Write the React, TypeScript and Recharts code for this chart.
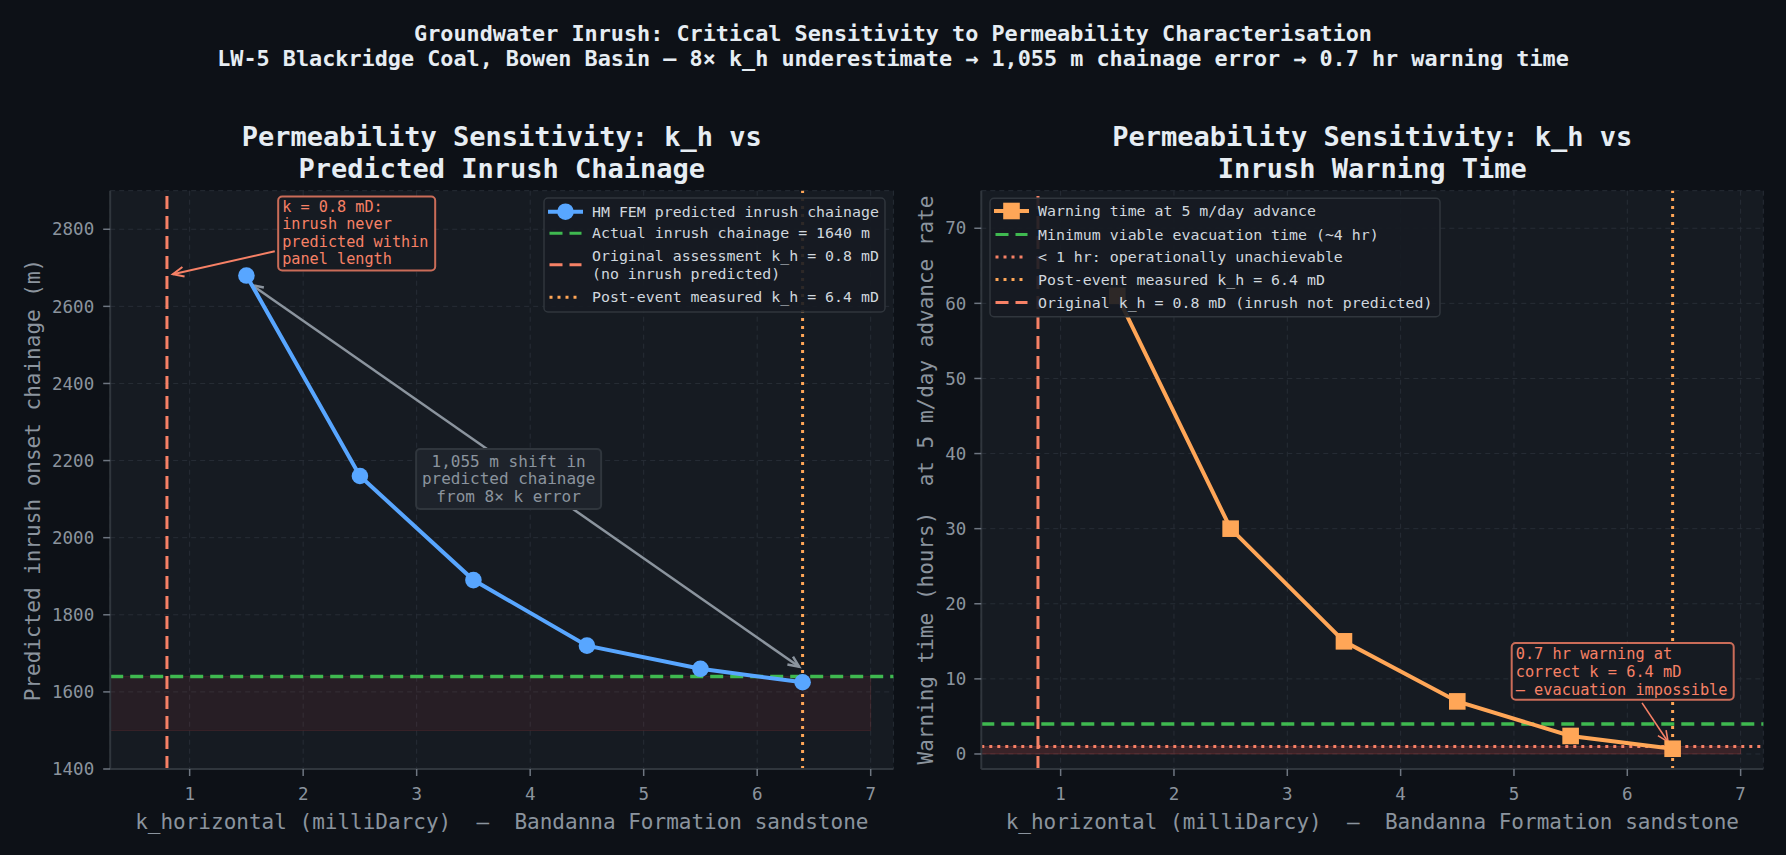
import React from 'react';
import {
  CartesianGrid,
  ComposedChart,
  Line,
  ReferenceArea,
  ReferenceDot,
  ReferenceLine,
  XAxis,
  YAxis,
} from 'recharts';

// horizontal permeability cases run through the HM FEM model (mD)
const kValues = [1.5, 2.5, 3.5, 4.5, 5.5, 6.4];
// predicted inrush onset chainage (m)
const chainage = [2680, 2160, 1890, 1720, 1660, 1625];
// warning time at 5 m/day advance (hours)
const warningHours = [61, 30, 15, 7, 2.4, 0.7];

const xTicks = [1, 2, 3, 4, 5, 6, 7];
const chainageTicks = [1400, 1600, 1800, 2000, 2200, 2400, 2600, 2800];
const warningTicks = [0, 10, 20, 30, 40, 50, 60, 70];

const ORIGINAL_K = 0.8;
const MEASURED_K = 6.4;
const ACTUAL_CHAINAGE = 1640;
const MIN_EVAC_HOURS = 4;
const UNACHIEVABLE_HOURS = 1;

const chainageRows = kValues.map((k, i) => ({ k, chainage: chainage[i] }));
const warningRows = kValues.map((k, i) => ({ k, hours: warningHours[i] }));

const FONT = "'DejaVu Sans Mono', monospace";
const BG = '#0d1117';
const PANEL = '#161b22';
const GRID = '#272d36';
const SPINE = '#30363d';
const MUTED = '#8b949e';
const TEXT = '#e6edf3';
const LEGEND_TEXT = '#d0d7de';
const BLUE = '#58a6ff';
const ORANGE = '#ffa657';
const GREEN = '#3fb950';
const SALMON = '#f78166';
const RED = '#f85149';

const DASH = '13 7';
const DOT = '3 5';

const tickStyle = { fill: MUTED, fontSize: 17.5, fontFamily: FONT };

const circleDot = (p: any) => (
  <circle key={`c-${p.index}`} cx={p.cx} cy={p.cy} r={8.3} fill={BLUE} />
);
const squareDot = (p: any) => (
  <rect key={`s-${p.index}`} x={p.cx - 8.3} y={p.cy - 8.3} width={16.6} height={16.6} fill={ORANGE} />
);

// line with open chevron heads, used for annotate-style arrows
function arrow(color: string, width: number, heads: { start?: boolean; end?: boolean }, shrinkEnd = 0) {
  return (p: any) => {
    const { x1, y1 } = p;
    let { x2, y2 } = p;
    const a = Math.atan2(y2 - y1, x2 - x1);
    x2 -= shrinkEnd * Math.cos(a);
    y2 -= shrinkEnd * Math.sin(a);
    const chevron = (x: number, y: number, dir: number) => {
      const l = 12;
      const s = 0.42;
      return `M${x - l * Math.cos(dir - s)},${y - l * Math.sin(dir - s)} L${x},${y} L${x - l * Math.cos(dir + s)},${y - l * Math.sin(dir + s)}`;
    };
    return (
      <g>
        <line x1={x1} y1={y1} x2={x2} y2={y2} stroke={color} strokeWidth={width} />
        {heads.end && <path d={chevron(x2, y2, a)} fill="none" stroke={color} strokeWidth={width} />}
        {heads.start && <path d={chevron(x1, y1, a + Math.PI)} fill="none" stroke={color} strokeWidth={width} />}
      </g>
    );
  };
}

interface NoteOpts {
  lines: string[];
  w: number;
  h: number;
  color: string;
  border: string;
  fill: string;
  fontSize: number;
  gap: number;
  centered?: boolean;
}

// text box anchored on a data point (top-left corner, or centre when centered)
function note(o: NoteOpts) {
  return (p: any) => {
    const x = o.centered ? p.cx - o.w / 2 : p.cx;
    const y = o.centered ? p.cy - o.h / 2 : p.cy;
    const first = o.centered ? p.cy - ((o.lines.length - 1) * o.gap) / 2 + o.fontSize * 0.33 : y + 15.6;
    return (
      <g>
        <rect x={x} y={y} width={o.w} height={o.h} rx={4} fill={o.fill} stroke={o.border} strokeWidth={2} />
        {o.lines.map((t, i) => (
          <text
            key={t}
            x={o.centered ? p.cx : x + 4}
            y={first + i * o.gap}
            fill={o.color}
            fontSize={o.fontSize}
            fontFamily={FONT}
            textAnchor={o.centered ? 'middle' : 'start'}
            style={{ whiteSpace: 'pre' }}
          >
            {t}
          </text>
        ))}
      </g>
    );
  };
}

type Sample = { color: string; dash?: string; marker?: 'circle' | 'square' };
interface LegendRow {
  sample: Sample;
  lines: string[];
  y: number;
}

function LegendBox({ x, y, w, h, rows, sx, tx }: { x: number; y: number; w: number; h: number; rows: LegendRow[]; sx: number; tx: number }) {
  return (
    <g>
      <rect x={x} y={y} width={w} height={h} rx={4} fill={PANEL} fillOpacity={0.9} stroke={SPINE} strokeWidth={1.5} />
      {rows.map((r) => {
        const marker = r.sample.marker;
        const mid = r.y + ((r.lines.length - 1) * 18.3) / 2;
        return (
          <g key={r.lines[0]}>
            <line
              x1={marker ? sx : sx + 1.5}
              x2={marker ? sx + 35 : sx + 33.5}
              y1={mid}
              y2={mid}
              stroke={r.sample.color}
              strokeWidth={r.sample.marker ? 4 : 3}
              strokeDasharray={r.sample.dash}
            />
            {marker === 'circle' && <circle cx={sx + 17.5} cy={mid} r={8.3} fill={r.sample.color} />}
            {marker === 'square' && <rect x={sx + 9.2} y={mid - 8.3} width={16.6} height={16.6} fill={r.sample.color} />}
            {r.lines.map((t, i) => (
              <text key={t} x={tx} y={r.y + 5 + i * 18.3} fill={LEGEND_TEXT} fontSize={14.9} fontFamily={FONT} style={{ whiteSpace: 'pre' }}>
                {t}
              </text>
            ))}
          </g>
        );
      })}
    </g>
  );
}

const leftLegend: LegendRow[] = [
  { sample: { color: BLUE, marker: 'circle' }, lines: ['HM FEM predicted inrush chainage'], y: 211.7 },
  { sample: { color: GREEN, dash: DASH }, lines: [`Actual inrush chainage = ${ACTUAL_CHAINAGE} m`], y: 233.3 },
  { sample: { color: SALMON, dash: DASH }, lines: [`Original assessment k_h = ${ORIGINAL_K} mD`, '(no inrush predicted)'], y: 255.7 },
  { sample: { color: ORANGE, dash: DOT }, lines: [`Post-event measured k_h = ${MEASURED_K} mD`], y: 297.3 },
];

const rightLegend: LegendRow[] = [
  { sample: { color: ORANGE, marker: 'square' }, lines: ['Warning time at 5 m/day advance'], y: 211 },
  { sample: { color: GREEN, dash: DASH }, lines: ['Minimum viable evacuation time (~4 hr)'], y: 234.5 },
  { sample: { color: SALMON, dash: DOT }, lines: ['< 1 hr: operationally unachievable'], y: 257 },
  { sample: { color: ORANGE, dash: DOT }, lines: [`Post-event measured k_h = ${MEASURED_K} mD`], y: 279.5 },
  { sample: { color: SALMON, dash: DASH }, lines: [`Original k_h = ${ORIGINAL_K} mD (inrush not predicted)`], y: 302.5 },
];

const xLabel = 'k_horizontal (milliDarcy)  —  Bandanna Formation sandstone';

function ChainageChart() {
  return (
    <ComposedChart width={894} height={855} data={chainageRows} margin={{ top: 190.7, right: 0.6, bottom: 0, left: 0 }}>
      <CartesianGrid stroke={GRID} strokeDasharray="5 4" fill={PANEL} fillOpacity={1} />
      <XAxis
        dataKey="k"
        type="number"
        domain={[0.3, 7.2]}
        ticks={xTicks}
        interval={0}
        allowDataOverflow
        height={86}
        tick={tickStyle}
        tickSize={7}
        tickMargin={11.6}
        tickLine={{ stroke: '#6e7681', strokeWidth: 1.5 }}
        axisLine={{ stroke: SPINE, strokeWidth: 2 }}
      />
      <YAxis
        type="number"
        domain={[1400, 2900]}
        ticks={chainageTicks}
        interval={0}
        allowDataOverflow
        width={110.2}
        tick={tickStyle}
        tickSize={7}
        tickMargin={9}
        tickLine={{ stroke: '#6e7681', strokeWidth: 1.5 }}
        axisLine={{ stroke: SPINE, strokeWidth: 2 }}
      />
      <ReferenceArea x1={0.3} x2={7} y1={1500} y2={ACTUAL_CHAINAGE} fill={RED} fillOpacity={0.08} stroke={RED} strokeOpacity={0.12} />
      <ReferenceLine y={ACTUAL_CHAINAGE} stroke={GREEN} strokeWidth={3.5} strokeDasharray={DASH} />
      <ReferenceLine x={ORIGINAL_K} stroke={SALMON} strokeWidth={3} strokeDasharray={DASH} />
      <ReferenceLine x={MEASURED_K} stroke={ORANGE} strokeWidth={3} strokeDasharray={DOT} />
      <ReferenceLine
        segment={[{ x: 1.55, y: 2655 }, { x: 6.37, y: 1665 }]}
        shape={arrow(MUTED, 2.5, { start: true, end: true })}
      />
      <ReferenceLine
        segment={[{ x: 1.75, y: 2743 }, { x: ORIGINAL_K, y: 2680 }]}
        shape={arrow(SALMON, 2, { end: true }, 6)}
      />
      <Line
        type="linear"
        dataKey="chainage"
        stroke={BLUE}
        strokeWidth={4}
        dot={circleDot}
        activeDot={false}
        isAnimationActive={false}
      />
      <ReferenceDot
        x={1.78}
        y={2885}
        r={1}
        shape={note({
          lines: ['k = 0.8 mD:', 'inrush never', 'predicted within', 'panel length'],
          w: 157,
          h: 74,
          color: SALMON,
          border: 'rgba(247,129,102,0.8)',
          fill: PANEL,
          fontSize: 15.2,
          gap: 17.3,
        })}
      />
      <ReferenceDot
        x={3.81}
        y={2152}
        r={1}
        shape={note({
          lines: ['1,055 m shift in', 'predicted chainage', 'from 8× k error'],
          w: 185,
          h: 60,
          color: MUTED,
          border: SPINE,
          fill: '#1e232b',
          fontSize: 16,
          gap: 17.5,
          centered: true,
        })}
      />
    </ComposedChart>
  );
}

function WarningChart() {
  return (
    <ComposedChart width={893} height={855} data={warningRows} margin={{ top: 190.7, right: 22.7, bottom: 0, left: 0 }}>
      <CartesianGrid stroke={GRID} strokeDasharray="5 4" fill={PANEL} fillOpacity={1} />
      <XAxis
        dataKey="k"
        type="number"
        domain={[0.3, 7.2]}
        ticks={xTicks}
        interval={0}
        allowDataOverflow
        height={86}
        tick={tickStyle}
        tickSize={7}
        tickMargin={11.6}
        tickLine={{ stroke: '#6e7681', strokeWidth: 1.5 }}
        axisLine={{ stroke: SPINE, strokeWidth: 2 }}
      />
      <YAxis
        type="number"
        domain={[-2, 75]}
        ticks={warningTicks}
        interval={0}
        allowDataOverflow
        width={88.3}
        tick={tickStyle}
        tickSize={7}
        tickMargin={8}
        tickLine={{ stroke: '#6e7681', strokeWidth: 1.5 }}
        axisLine={{ stroke: SPINE, strokeWidth: 2 }}
      />
      <ReferenceArea x1={0.3} x2={7} y1={0} y2={UNACHIEVABLE_HOURS} fill={RED} fillOpacity={0.16} stroke={RED} strokeOpacity={0.2} />
      <ReferenceLine y={MIN_EVAC_HOURS} stroke={GREEN} strokeWidth={3.5} strokeDasharray={DASH} />
      <ReferenceLine y={UNACHIEVABLE_HOURS} stroke={SALMON} strokeWidth={3} strokeDasharray={DOT} />
      <ReferenceLine x={ORIGINAL_K} stroke={SALMON} strokeWidth={3} strokeDasharray={DASH} />
      <ReferenceLine x={MEASURED_K} stroke={ORANGE} strokeWidth={3} strokeDasharray={DOT} />
      <ReferenceLine
        segment={[{ x: 6.13, y: 6.8 }, { x: 6.36, y: 1.6 }]}
        shape={arrow(SALMON, 1.6, { end: true })}
      />
      <Line
        type="linear"
        dataKey="hours"
        stroke={ORANGE}
        strokeWidth={4}
        dot={squareDot}
        activeDot={false}
        isAnimationActive={false}
      />
      <ReferenceDot
        x={4.98}
        y={14.77}
        r={1}
        shape={note({
          lines: ['0.7 hr warning at', 'correct k = 6.4 mD', '— evacuation impossible'],
          w: 222,
          h: 56.6,
          color: SALMON,
          border: 'rgba(247,129,102,0.8)',
          fill: PANEL,
          fontSize: 15.3,
          gap: 18,
        })}
      />
    </ComposedChart>
  );
}

export default function App() {
  return (
    <div style={{ position: 'absolute', left: 0, top: 0, width: 1786, height: 855, background: BG, overflow: 'hidden' }}>
      <div style={{ position: 'absolute', left: 0, top: 0 }}>
        <ChainageChart />
      </div>
      <div style={{ position: 'absolute', left: 893, top: 0 }}>
        <WarningChart />
      </div>
      <svg width={1786} height={855} style={{ position: 'absolute', left: 0, top: 0, pointerEvents: 'none' }} fontFamily={FONT}>
        <text x={893} y={40.7} textAnchor="middle" fill={TEXT} fontSize={21.8} fontWeight="bold">
          Groundwater Inrush: Critical Sensitivity to Permeability Characterisation
        </text>
        <text x={893} y={66} textAnchor="middle" fill={TEXT} fontSize={21.8} fontWeight="bold">
          LW-5 Blackridge Coal, Bowen Basin — 8× k_h underestimate → 1,055 m chainage error → 0.7 hr warning time
        </text>

        <text x={501.8} y={146} textAnchor="middle" fill={TEXT} fontSize={27} fontWeight="bold">Permeability Sensitivity: k_h vs</text>
        <text x={501.8} y={178.3} textAnchor="middle" fill={TEXT} fontSize={27} fontWeight="bold">Predicted Inrush Chainage</text>
        <text x={1372.3} y={146} textAnchor="middle" fill={TEXT} fontSize={27} fontWeight="bold">Permeability Sensitivity: k_h vs</text>
        <text x={1372.3} y={178.3} textAnchor="middle" fill={TEXT} fontSize={27} fontWeight="bold">Inrush Warning Time</text>

        <text x={501.8} y={829} textAnchor="middle" fill={MUTED} fontSize={21} style={{ whiteSpace: 'pre' }}>{xLabel}</text>
        <text x={1372.3} y={829} textAnchor="middle" fill={MUTED} fontSize={21} style={{ whiteSpace: 'pre' }}>{xLabel}</text>
        <text x={40} y={480} textAnchor="middle" fill={MUTED} fontSize={21} transform="rotate(-90 40 480)" style={{ whiteSpace: 'pre' }}>
          Predicted inrush onset chainage (m)
        </text>
        <text x={933} y={480} textAnchor="middle" fill={MUTED} fontSize={21} transform="rotate(-90 933 480)" style={{ whiteSpace: 'pre' }}>
          {'Warning time (hours)  at 5 m/day advance rate'}
        </text>

        <LegendBox x={544} y={198} w={341} h={114} rows={leftLegend} sx={548} tx={592} />
        <LegendBox x={990} y={198.3} w={450} h={118.4} rows={rightLegend} sx={994} tx={1038} />
      </svg>
    </div>
  );
}
